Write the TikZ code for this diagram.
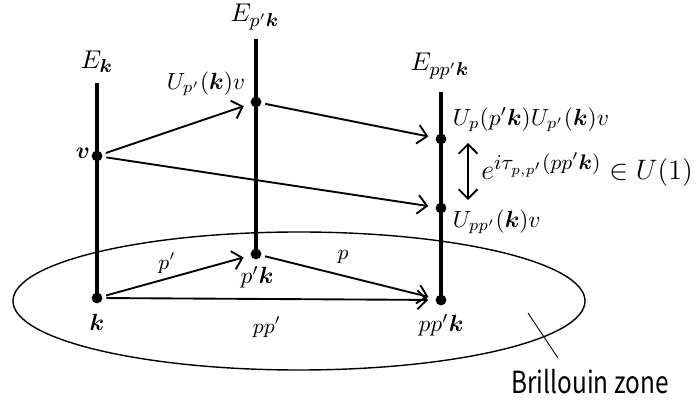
\documentclass[tikz,border=0pt]{standalone}
\usepackage{fontspec}
\newfontfamily\bzfont{Noto Sans CJK JP}
\usepackage{amsmath}
\usepackage{bm}
\usepackage{tikz}
\usetikzlibrary{shapes.geometric,arrows.meta,positioning}

\begin{document}
\begin{tikzpicture}[
  x=0.015cm,y=-0.015cm,
  % fibre over a point of the zone
  fibre/.style={line width=1.3pt},
  % point on a fibre / in the zone
  dot/.style={circle,fill=black,inner sep=0pt,minimum size=4.6pt},
  arr/.style={-{Straight Barb[length=4pt,width=8pt]},line width=0.8pt,
              shorten <=1.5pt,shorten >=3pt},
  zone/.style={draw,ellipse,line width=0.6pt,inner sep=0pt,
               minimum width=8.58cm,minimum height=2.07cm},
  lab/.style={inner sep=1pt,font=\normalsize},
  big/.style={inner sep=1pt,font=\fontsize{11}{13}\selectfont},
  sml/.style={inner sep=1pt,font=\small}
]
  \useasboundingbox (0,0) rectangle (697,404);

  % ---- Brillouin zone ----
  \node[zone] (bz) at (299,301) {};
  \node[inner sep=0pt,font=\bzfont\fontsize{13}{15}\selectfont] (bzlab) at (590,382)
       {\scalebox{0.8}[1]{Brillouin zone}};
  \coordinate (bzp) at (528,313);
  \coordinate (bzq) at (558,358);
  \draw[line width=0.4pt] (bzp) -- (bzq);

  % ---- Points ----
  \node[dot] (k)    at (97,298)  {};
  \node[dot] (pk)   at (256,254) {};
  \node[dot] (ppk)  at (441,300) {};
  \node[dot] (v)    at (97,156)  {};
  \node[dot] (Uv)   at (256,102) {};
  \node[dot] (UUv)  at (441,139) {};
  \node[dot] (Uppv) at (441,208) {};

  % ---- Fibres ----
  \coordinate (tk)   at (97,83);
  \coordinate (tpk)  at (256,39);
  \coordinate (tppk) at (441,92);
  \draw[fibre] (k.center)   -- (tk);
  \draw[fibre] (pk.center)  -- (tpk);
  \draw[fibre] (ppk.center) -- (tppk);

  % ---- Labels ----
  \node[big] (lEk)   at (97,62)  {$E_{\bm k}$};
  \node[big] (lEpk)  at (255,17) {$E_{p'\bm k}$};
  \node[big] (lEppk) at (440,66) {$E_{pp'\bm k}$};
  \node[lab] (lUv)   at (206,84) {$U_{p'}(\bm k)v$};
  \node[lab] (lv)    at (83,153) {$\bm v$};
  \node[lab,anchor=west] (lUUv)  at (450,120) {$U_p(p'\bm k)U_{p'}(\bm k)v$};
  \node[lab,anchor=west] (lUppv) at (450,222) {$U_{pp'}(\bm k)v$};
  \node[lab] (lk)    at (97,322)  {$\bm k$};
  \node[lab] (lpk)   at (257,277) {$p'\bm k$};
  \node[lab] (lppk)  at (441,325) {$pp'\bm k$};
  \node[sml] (lp1)   at (167,263) {$p'$};
  \node[sml] (lp)    at (343,257) {$p$};
  \node[sml] (lpp)   at (267,327) {$pp'$};

  % ---- Phase between the two images ----
  \coordinate (dtop) at (468,143);
  \coordinate (dbot) at (468,200);
  \draw[{Straight Barb[length=4pt,width=8pt]}-{Straight Barb[length=4pt,width=8pt]},line width=0.8pt] (dtop) -- (dbot);
  \node[inner sep=0pt,anchor=base west,font=\fontsize{12.3}{15}\selectfont] (phase) at (481,180)
       {$e^{i\tau_{p,p'}(pp'\bm k)}\in U(1)$};

  % ---- Maps ----
  \draw[arr] (v)  -- (Uv);
  \draw[arr] (v)  -- (Uppv);
  \draw[arr] (Uv) -- (UUv);
  \draw[arr] (k)  -- (pk);
  \draw[arr] (pk) -- (ppk);
  \draw[arr] (k)  -- (ppk);
\end{tikzpicture}
\end{document}
